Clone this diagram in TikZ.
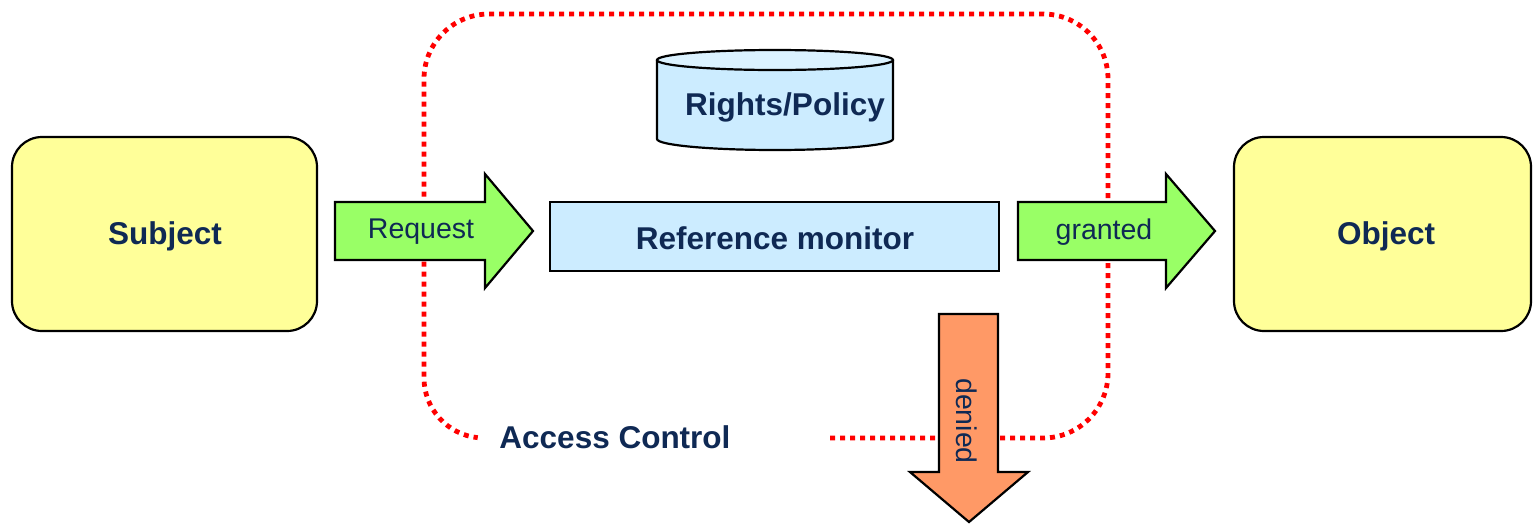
\documentclass[tikz,border=0pt]{standalone}
\usepackage{fontspec}
\setmainfont{Liberation Sans}
\definecolor{navy}{RGB}{15,41,84}
\definecolor{ybox}{RGB}{255,255,153}
\definecolor{garrow}{RGB}{153,255,102}
\definecolor{bbox}{RGB}{204,236,255}
\definecolor{oarrow}{RGB}{255,153,102}
\tikzset{
  shapeline/.style={draw=black, line width=2.2pt, line join=miter},
  boldlbl/.style={text=navy, font=\fontsize{31.5}{31.5}\selectfont\bfseries, inner sep=0pt},
  reglbl/.style={text=navy, font=\fontsize{28.5}{28.5}\selectfont, inner sep=0pt},
  dotline/.style={draw=red, line width=4.8pt, dash pattern=on 5pt off 5pt}
}
\begin{document}
\begin{tikzpicture}[x=1pt,y=-1pt]
\useasboundingbox (0,0) rectangle (1533,523);
% dotted access-control boundary
\draw[dotline] (830,438) -- (1043,438) arc[start angle=90, end angle=0, radius=65]
  -- (1108,79) arc[start angle=0, end angle=-90, radius=65]
  -- (489,14) arc[start angle=-90, end angle=-180, radius=65]
  -- (424,378) arc[start angle=180, end angle=96, radius=60];
% Subject and Object
\draw[shapeline, fill=ybox, rounded corners=30] (12,137) rectangle (317,331);
\node[boldlbl] (subject) at (165,236) {Subject};
\draw[shapeline, fill=ybox, rounded corners=30] (1234,137) rectangle (1531,331);
\node[boldlbl] (object) at (1386,236) {Object};
% Rights/Policy cylinder
\draw[shapeline, fill=bbox] (657,60) -- (657,139) arc[start angle=180, end angle=0, x radius=118, y radius=11] -- (893,60);
\draw[shapeline, fill=bbox!70!white] (775,60) ellipse[x radius=118, y radius=10];
\node[boldlbl] (policy) at (785,107) {Rights/Policy};
% Reference monitor
\draw[shapeline, line width=1.6pt, fill=bbox] (550,202) rectangle (999,271);
\node[boldlbl] (monitor) at (775,238) {Reference monitor};
% Request arrow
\draw[shapeline, fill=garrow] (335,202) -- (485,202) -- (485,174) -- (533,231) -- (485,288) -- (485,260) -- (335,260) -- cycle;
\node[reglbl] (request) at (421,232) {Request};
% granted arrow
\draw[shapeline, fill=garrow] (1018,202) -- (1166,202) -- (1166,174) -- (1215,231) -- (1166,288) -- (1166,260) -- (1018,260) -- cycle;
\node[reglbl] (granted) at (1104,232) {granted};
% denied arrow
\draw[shapeline, fill=oarrow] (939,314) -- (998,314) -- (998,472) -- (1028,472) -- (969,522) -- (910,472) -- (939,472) -- cycle;
\node[reglbl, rotate=-90] (denied) at (967,421) {denied};
% Access Control label
\node[boldlbl] (access) at (615,437) {Access Control};
\end{tikzpicture}
\end{document}
